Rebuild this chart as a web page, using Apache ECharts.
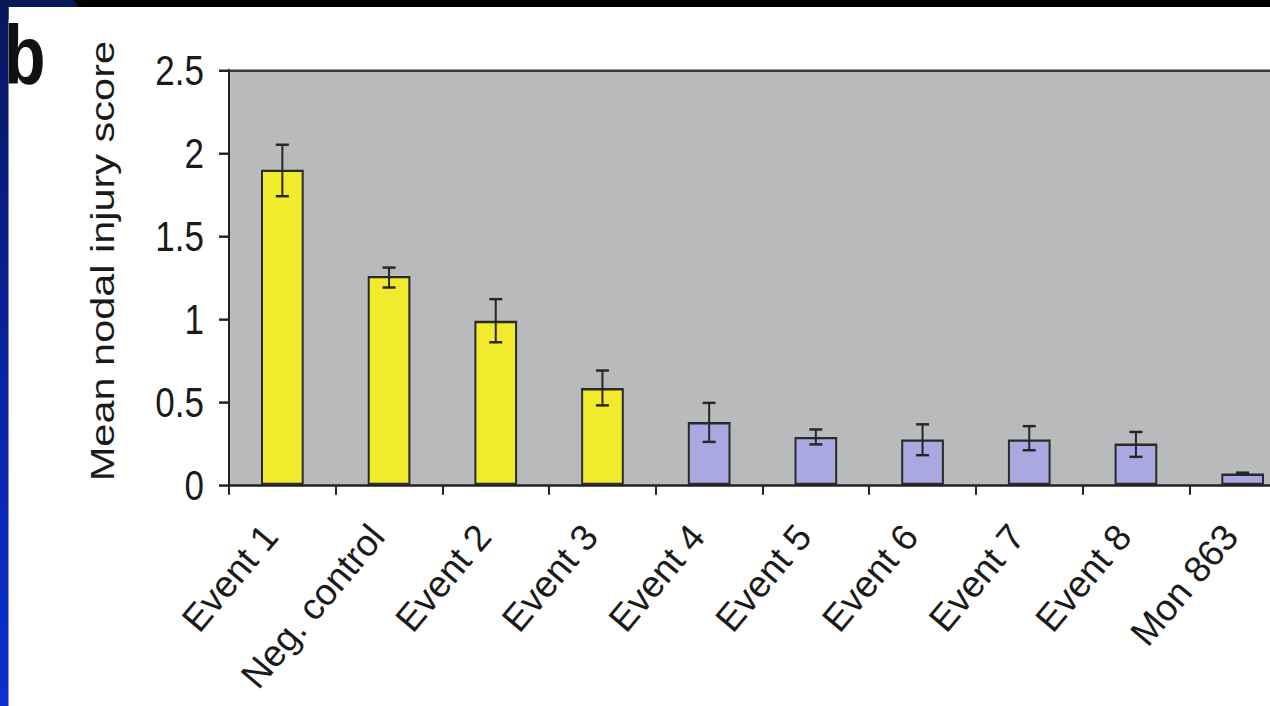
<!DOCTYPE html>
<html><head><meta charset="utf-8">
<script src="https://cdn.jsdelivr.net/npm/echarts@6/dist/echarts.min.js"></script>
<style>
html,body{margin:0;padding:0;background:#fff;overflow:hidden;}
#wrap{width:1270px;height:706px;overflow:hidden;position:relative;}
#c{position:absolute;left:0;top:0;width:1300px;height:579px;transform:scaleY(1.22);transform-origin:0 0;}
#x{position:absolute;left:0;top:0;width:1300px;height:706px;pointer-events:none;}
</style>
</head><body><div id="wrap"><div id="c"></div><div id="x"></div></div>
<script>
const categories = ['Event 1','Neg. control','Event 2','Event 3','Event 4','Event 5','Event 6','Event 7','Event 8','Mon 863'];
const values = [1.90, 1.26, 0.99, 0.585, 0.38, 0.29, 0.275, 0.275, 0.25, 0.07];
const errLow = [1.74, 1.19, 0.86, 0.48, 0.26, 0.245, 0.18, 0.21, 0.17, 0.065];
const errHigh = [2.05, 1.31, 1.12, 0.69, 0.495, 0.335, 0.366, 0.355, 0.32, 0.075];
const barColors = ['#f2ea2c','#f2ea2c','#f2ea2c','#f2ea2c','#aaa8e0','#aaa8e0','#aaa8e0','#aaa8e0','#aaa8e0','#aaa8e0'];
const yTicks = [0, 0.5, 1, 1.5, 2, 2.5];
const yTitle = 'Mean nodal injury score';
const panelLabel = 'b';

const font = '"Liberation Sans", Arial, sans-serif';
const chart = echarts.init(document.getElementById('c'), null, {renderer:'svg'});
chart.setOption({
  animation: false,
  backgroundColor: '#ffffff',
  graphic: [
    {type:'rect', shape:{x:0,y:0,width:1300,height:5.8}, style:{fill:'#000'}, z:100},
    {type:'rect', shape:{x:0,y:0,width:8.5,height:579}, style:{fill:new echarts.graphic.LinearGradient(0,0,0,1,[{offset:0,color:'#07185a'},{offset:0.5,color:'#0822a0'},{offset:1,color:'#0a30d2'}])}, z:100},
    {type:'polygon', shape:{points:[[0,0],[74,0],[78,5.8],[8.5,5.8],[8.5,16],[0,16]]}, style:{fill:'#07185a'}, z:101},
    {type:'text', x:4, y:79.4, style:{text:panelLabel, font:'bold 68px ' + font, fill:'#111', verticalAlign:'bottom'}, z:50},
    {type:'text', x:102, y:214, rotation:Math.PI/2, style:{text:yTitle, font:'34px ' + font, fill:'#1a1a1a', align:'center', verticalAlign:'middle'}, z:50}
  ],
  grid: {left:229, top:57.4, width:1067, height:340.2, show:true, backgroundColor:'#b9babc', borderWidth:0, outerBoundsMode:'none', containLabel:false},
  xAxis: [{
    type:'category', data:categories,
    axisLine:{show:true, lineStyle:{color:'#222', width:2}},
    axisTick:{show:true, alignWithLabel:false, length:8, lineStyle:{color:'#222', width:2}},
    axisLabel:{show:false}
  },{
    type:'category', data:categories, position:'top',
    axisLine:{show:true, lineStyle:{color:'#3a3a3a', width:2}},
    axisTick:{show:false}, axisLabel:{show:false}
  }],
  yAxis: {
    type:'value', min:0, max:2.5, interval:0.5,
    axisLine:{show:true, lineStyle:{color:'#222', width:2}},
    axisTick:{show:true, length:10, lineStyle:{color:'#222', width:2}},
    axisLabel:{fontSize:35, fontFamily:font, color:'#1a1a1a', margin:25,
      formatter: v => yTicks.includes(v) ? String(v) : ''},
    splitLine:{show:false}
  },
  series: [{
    type:'bar', barWidth:'40%',
    data: values.map((v,i)=>({value:v, itemStyle:{color:barColors[i]}})),
    itemStyle:{borderColor:'#2a2a2a', borderWidth:2}
  },{
    type:'custom',
    data: categories.map((c,i)=>[i, errLow[i], errHigh[i]]),
    renderItem: function(params, api){
      const lo = api.coord([api.value(0), api.value(1)]);
      const hi = api.coord([api.value(0), api.value(2)]);
      const hw = 6.5;
      const st = {stroke:'#262626', lineWidth:2};
      return {type:'group', children:[
        {type:'line', shape:{x1:hi[0],y1:hi[1],x2:lo[0],y2:lo[1]}, style:st},
        {type:'line', shape:{x1:hi[0]-hw,y1:hi[1],x2:hi[0]+hw,y2:hi[1]}, style:st},
        {type:'line', shape:{x1:lo[0]-hw,y1:lo[1],x2:lo[0]+hw,y2:lo[1]}, style:st}
      ]};
    },
    z:10
  }]
});

// Unscaled category label layer (same category axis, labels only)
const xl = echarts.init(document.getElementById('x'), null, {renderer:'svg'});
xl.setOption({
  animation: false,
  grid: {left:217, top:70, width:1067, height:415, show:false, outerBoundsMode:'none', containLabel:false},
  xAxis: {
    type:'category', data:categories,
    axisLine:{show:false}, axisTick:{show:false},
    axisLabel:{rotate:50, fontSize:37, fontFamily:font, color:'#1a1a1a', margin:45, interval:0}
  },
  yAxis: {type:'value', min:0, max:2.5, show:false},
  series: []
});
</script></body></html>
